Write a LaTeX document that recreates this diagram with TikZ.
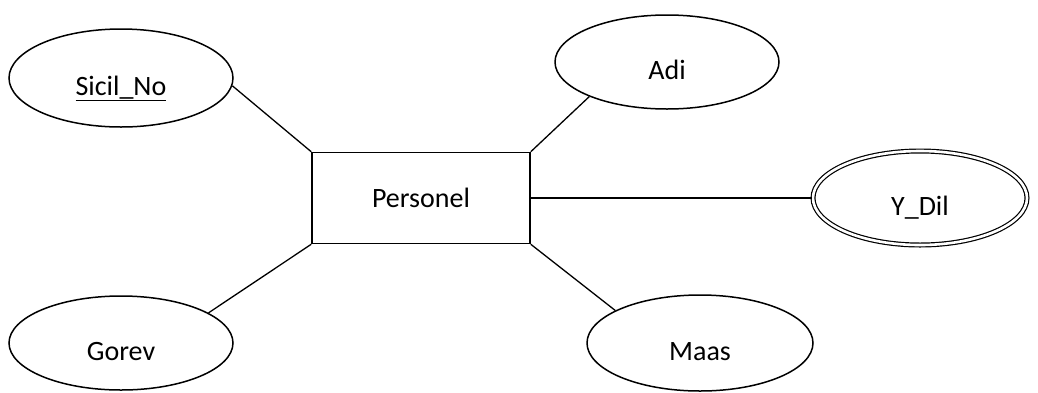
\documentclass[tikz,border=0pt]{standalone}
\usepackage{fontspec}
\setmainfont{Carlito}
\usetikzlibrary{shapes.geometric}
\begin{document}
\begin{tikzpicture}[x=1pt,y=-1pt,
  lbl/.style={font=\fontsize{28}{34}\selectfont},
  attr/.style={ellipse,draw,line width=1.5pt,inner sep=0pt,lbl,
    text height=34pt,text depth=0pt},
  multiattr/.style={attr,line width=1.2pt,double,double distance=2.6pt},
  entity/.style={rectangle,draw,line width=1.5pt,inner sep=0pt,lbl,
    minimum width=218pt,minimum height=91pt},
  link/.style={draw,line width=1.3pt}]
  \useasboundingbox[fill=white] (0,0) rectangle (1038,392);

  % entity
  \node[entity] (personel) at (421,198) {Personel};

  % attributes
  \node[attr,minimum width=224pt,minimum height=98pt] (sicil) at (121,78) {\underline{Sicil\_No}};
  \node[attr,minimum width=224pt,minimum height=94pt] (adi)   at (667,62) {Adi};
  \node[multiattr,minimum width=214pt,minimum height=94pt] (ydil) at (920,198) {Y\_Dil};
  \node[attr,minimum width=224pt,minimum height=94pt] (gorev) at (121,343) {Gorev};
  \node[attr,minimum width=226pt,minimum height=96pt] (maas)  at (700,343) {Maas};

  % relationships between entity and attributes
  \draw[link] (personel.north west) -- (sicil.-4);
  \draw[link] (personel.north east) -- (adi.-156);
  \draw[link] (personel.east) -- (ydil.west);
  \draw[link] (personel.south west) -- (gorev.19);
  \draw[link] (personel.south east) -- (maas.159);
\end{tikzpicture}
\end{document}
